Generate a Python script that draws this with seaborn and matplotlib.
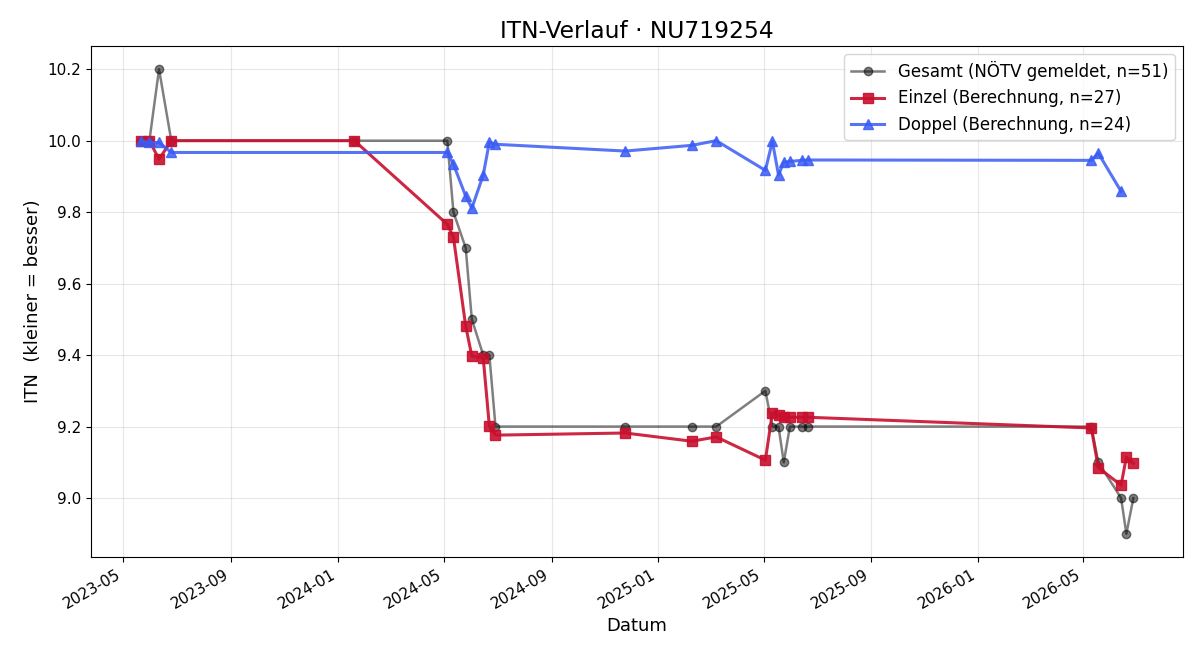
import seaborn as sns
import pandas as pd
import matplotlib.pyplot as plt
import matplotlib.dates as mdates

# Gesamt (reported ITN)
gesamt_dates = ['2023-05-21', '2023-05-31', '2023-06-11', '2023-06-25', '2024-01-20',
                '2024-05-05', '2024-05-12', '2024-05-26', '2024-06-02', '2024-06-15',
                '2024-06-22', '2024-06-29', '2024-11-24', '2025-02-08', '2025-03-08',
                '2025-05-03', '2025-05-11', '2025-05-18', '2025-05-24', '2025-05-31',
                '2025-06-14', '2025-06-21', '2026-05-10', '2026-05-18', '2026-06-13',
                '2026-06-19', '2026-06-27']
gesamt_itn = [10.0, 10.0, 10.2, 10.0, 10.0,
              10.0, 9.8, 9.7, 9.5, 9.4,
              9.4, 9.2, 9.2, 9.2, 9.2,
              9.3, 9.2, 9.2, 9.1, 9.2,
              9.2, 9.2, 9.2, 9.1, 9.0,
              8.9, 9.0]

# Einzel (calculated)
einzel_dates = ['2023-05-21', '2023-05-31', '2023-06-11', '2023-06-25', '2024-01-20',
                '2024-05-05', '2024-05-12', '2024-05-26', '2024-06-02', '2024-06-15',
                '2024-06-22', '2024-06-29', '2024-11-24', '2025-02-08', '2025-03-08',
                '2025-05-03', '2025-05-11', '2025-05-18', '2025-05-24', '2025-05-31',
                '2025-06-14', '2025-06-21', '2026-05-10', '2026-05-18', '2026-06-13',
                '2026-06-19', '2026-06-27']
einzel_itn = [10.0, 10.0, 9.948, 10.0, 10.0,
              9.766, 9.73, 9.481, 9.397, 9.392,
              9.201, 9.176, 9.182, 9.159, 9.171,
              9.106, 9.238, 9.232, 9.228, 9.226,
              9.226, 9.226, 9.196, 9.085, 9.036,
              9.115, 9.097]

# Doppel (calculated)
doppel_dates = ['2023-05-21', '2023-05-31', '2023-06-11', '2023-06-25',
                '2024-05-05', '2024-05-12', '2024-05-26', '2024-06-02', '2024-06-15',
                '2024-06-22', '2024-06-29', '2024-11-24', '2025-02-08', '2025-03-08',
                '2025-05-03', '2025-05-11', '2025-05-18', '2025-05-24', '2025-05-31',
                '2025-06-14', '2025-06-21', '2026-05-10', '2026-05-18', '2026-06-13']
doppel_itn = [10.0, 9.995, 9.995, 9.967,
              9.967, 9.934, 9.845, 9.811, 9.904,
              9.996, 9.99, 9.971, 9.987, 10.0,
              9.917, 9.998, 9.904, 9.94, 9.942,
              9.945, 9.946, 9.945, 9.965, 9.858]

df_g = pd.DataFrame({'Datum': pd.to_datetime(gesamt_dates), 'ITN': gesamt_itn})
df_e = pd.DataFrame({'Datum': pd.to_datetime(einzel_dates), 'ITN': einzel_itn})
df_d = pd.DataFrame({'Datum': pd.to_datetime(doppel_dates), 'ITN': doppel_itn})

fig, ax = plt.subplots(figsize=(12, 6.6), dpi=100)
sns.lineplot(data=df_g, x='Datum', y='ITN', ax=ax, color='black', alpha=0.5,
             marker='o', markersize=6, linewidth=1.8, markeredgewidth=1,
             markeredgecolor='black', label='Gesamt (NÖTV gemeldet, n=51)')
sns.lineplot(data=df_e, x='Datum', y='ITN', ax=ax, color='#c8102e', alpha=0.9,
             marker='s', markersize=7, linewidth=2.2, markeredgewidth=1,
             markeredgecolor='#c8102e', label='Einzel (Berechnung, n=27)')
sns.lineplot(data=df_d, x='Datum', y='ITN', ax=ax, color='#3a5cf5', alpha=0.85,
             marker='^', markersize=7, linewidth=2.2, markeredgewidth=1,
             markeredgecolor='#3a5cf5', label='Doppel (Berechnung, n=24)')

ax.set_title('ITN-Verlauf · NU719254', fontsize=16.8)
ax.set_xlabel('Datum', fontsize=13)
ax.set_ylabel('ITN  (kleiner = besser)', fontsize=13)
ax.tick_params(labelsize=11)
ax.grid(True, alpha=0.3)
ax.xaxis.set_major_locator(mdates.MonthLocator(bymonth=[1, 5, 9]))
ax.xaxis.set_major_formatter(mdates.DateFormatter('%Y-%m'))
ax.legend(loc='upper right', fontsize=12)
fig.autofmt_xdate()
fig.subplots_adjust(left=91 / 1200, right=1183 / 1200, top=1 - 46 / 660, bottom=103 / 660)
plt.savefig('out.png')
